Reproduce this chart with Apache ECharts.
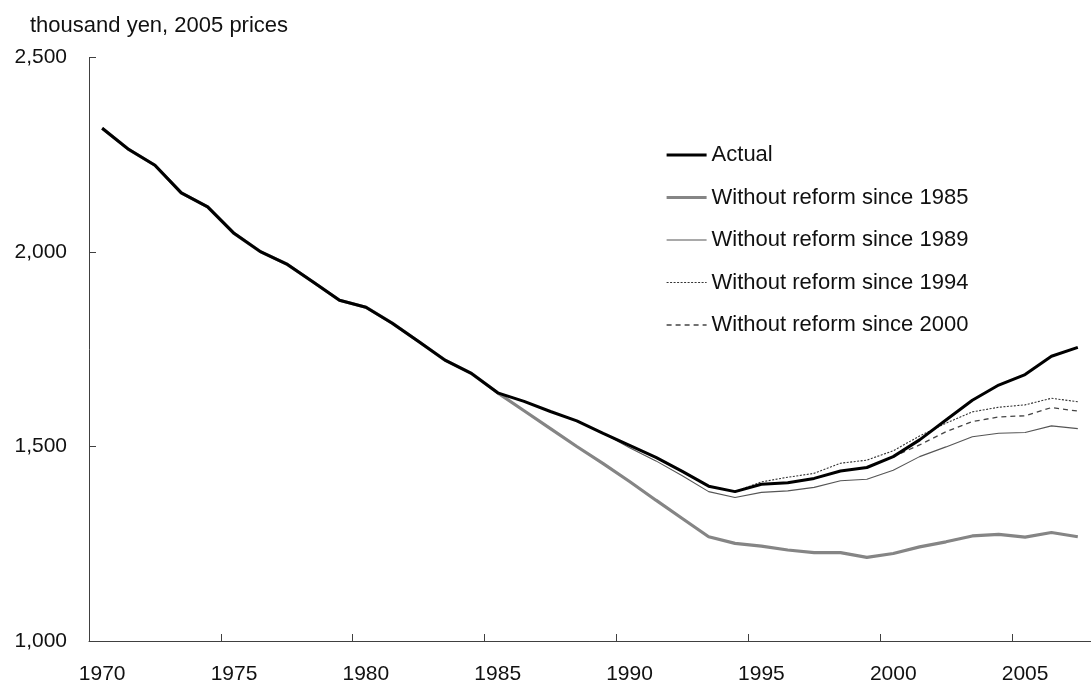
<!DOCTYPE html>
<html>
<head>
<meta charset="utf-8">
<script src="https://cdn.jsdelivr.net/npm/echarts@6/dist/echarts.min.js"></script>
<style>
html,body{margin:0;padding:0;background:#fff;}
#chart{width:1091px;height:686px;}
</style>
</head>
<body>
<div id="chart"></div>
<script>
const years = ['1970','1971','1972','1973','1974','1975','1976','1977','1978','1979',
  '1980','1981','1982','1983','1984','1985','1986','1987','1988','1989',
  '1990','1991','1992','1993','1994','1995','1996','1997','1998','1999',
  '2000','2001','2002','2003','2004','2005','2006','2007'];

const actual = [2318,2264,2223,2152,2116,2048,2001,1969,1923,1876,
  1858,1817,1770,1722,1688,1638,1616,1590,1566,1534,
  1503,1472,1436,1398,1384,1403,1407,1418,1437,1446,
  1474,1517,1568,1619,1658,1685,1732,1755];

// counterfactual paths after the reform year (shared history before)
const since1985 = [1592,1546,1500,1456,1410,1362,1315,1268,1251,1244,1234,1227,1227,1215,1225,1242,1255,1270,1274,1267,1279,1268]; // 1986-2007
const since1989 = [1497,1463,1425,1384,1369,1382,1386,1395,1412,1416,1439,1474,1499,1525,1534,1536,1553,1546]; // 1990-2007
const since1994 = [1409,1421,1431,1457,1465,1489,1527,1560,1589,1601,1607,1624,1615]; // 1995-2007
const since2000 = [1504,1538,1564,1576,1579,1600,1591]; // 2001-2007

const yTicks = [1000,1500,2000,2500];
const unitLabel = 'thousand yen, 2005 prices';
const names = ['Actual','Without reform since 1985','Without reform since 1989','Without reform since 1994','Without reform since 2000'];

function withHistory(baseYear, path){
  const idx = years.indexOf(String(baseYear));
  return actual.slice(0, idx + 1).concat(path);
}

const FONT = '"Liberation Sans", Arial, sans-serif';
const chart = echarts.init(document.getElementById('chart'));
chart.setOption({
  animation: false,
  backgroundColor: '#fff',
  textStyle: {fontFamily: FONT},
  title: {
    text: unitLabel, left: 25, top: 10,
    textStyle: {fontFamily: FONT, fontSize: 22, fontWeight: 'normal', color: '#111'}
  },
  grid: {left: 89, top: 57.5, width: 1006, bottom: 45, containLabel: false},
  legend: {
    orient: 'vertical', left: 665, top: 144, padding: 0,
    itemWidth: 40, itemHeight: 14, itemGap: 20.5,
    data: names,
    itemStyle: {opacity: 0},
    lineStyle: {width: 'inherit'},
    textStyle: {fontFamily: FONT, fontSize: 22, color: '#111'}
  },
  xAxis: {
    type: 'category', data: years, boundaryGap: true,
    axisLine: {lineStyle: {color: '#404040', width: 1}},
    axisTick: {show: true, inside: true, length: 7, interval: 4, alignWithLabel: false, lineStyle: {color: '#404040'}},
    axisLabel: {interval: 4, margin: 23, fontSize: 21, color: '#111', fontFamily: FONT},
    splitLine: {show: false}
  },
  yAxis: {
    type: 'value', min: yTicks[0], max: yTicks[yTicks.length-1], interval: 500,
    axisLine: {show: true, lineStyle: {color: '#404040', width: 1}},
    axisTick: {show: true, inside: true, length: 7, lineStyle: {color: '#404040'}},
    axisLabel: {margin: 22, fontSize: 21, color: '#111', fontFamily: FONT,
      formatter: v => v.toLocaleString('en-US')},
    splitLine: {show: false}
  },
  series: [
    {name: names[1], type: 'line', data: withHistory(1985, since1985), symbol: 'none',
      lineStyle: {color: '#858585', width: 3.2, type: 'solid'}, itemStyle: {color: '#858585'}},
    {name: names[2], type: 'line', data: withHistory(1989, since1989), symbol: 'none',
      lineStyle: {color: '#555555', width: 1.1, type: 'solid'}, itemStyle: {color: '#555555'}},
    {name: names[3], type: 'line', data: withHistory(1994, since1994), symbol: 'none',
      lineStyle: {color: '#333333', width: 1.1, type: [2, 1.5]}, itemStyle: {color: '#333333'}},
    {name: names[4], type: 'line', data: withHistory(2000, since2000), symbol: 'none',
      lineStyle: {color: '#444444', width: 1.3, type: [5, 4]}, itemStyle: {color: '#444444'}},
    {name: names[0], type: 'line', data: actual, symbol: 'none',
      lineStyle: {color: '#000000', width: 3}, itemStyle: {color: '#000000'}}
  ]
});
</script>
</body>
</html>
